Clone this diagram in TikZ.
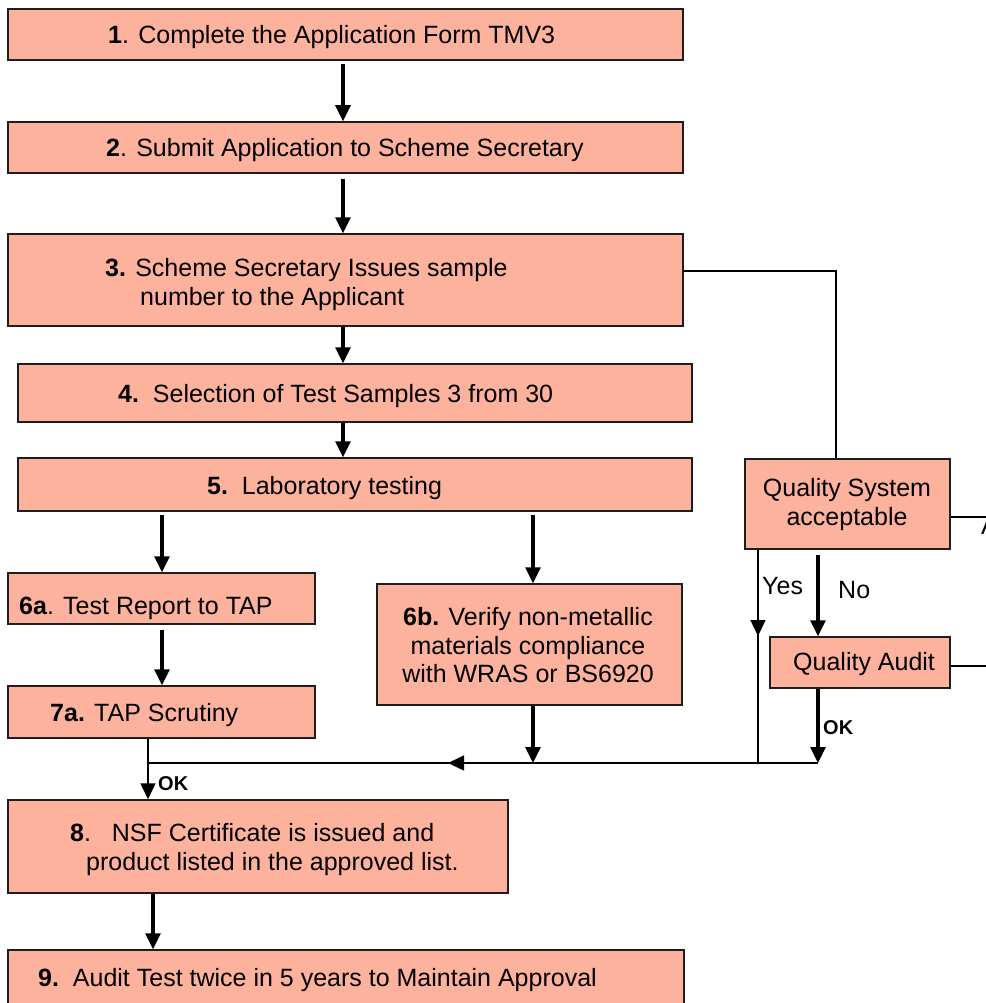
\documentclass[tikz,border=0pt]{standalone}
\usepackage{fontspec}
\setmainfont{Liberation Sans}
\usetikzlibrary{arrows.meta}
\definecolor{boxfill}{RGB}{253,178,158}
\definecolor{boxline}{RGB}{30,30,30}
\begin{document}
\begin{tikzpicture}[x=1pt,y=-1pt,
  box/.style={draw=boxline, line width=1.5pt, fill=boxfill, rectangle, inner sep=0pt},
  txt/.style={inner sep=0pt, anchor=base west, font=\fontsize{25}{29}\selectfont},
  txtc/.style={inner sep=0pt, anchor=base, font=\fontsize{25}{29}\selectfont},
  oklab/.style={inner sep=0pt, anchor=base west, font=\fontsize{20}{24}\selectfont\bfseries},
  tarr/.style={line width=3.2pt, -{Triangle[length=16pt,width=15pt]}},
  thinl/.style={line width=1.5pt},
  tharr/.style={line width=1.5pt, -{Triangle[length=16pt,width=15pt]}}
]
\useasboundingbox (0,0) rectangle (985,1003);

% boxes
\node[box, minimum width=675, minimum height=51] (b1) at (345.5,34.5) {};
\node[box, minimum width=675, minimum height=51] (b2) at (345.5,147.5) {};
\node[box, minimum width=675, minimum height=92] (b3) at (345.5,280) {};
\node[box, minimum width=674, minimum height=58] (b4) at (355,393) {};
\node[box, minimum width=674, minimum height=53] (b5) at (355,484.5) {};
\node[box, minimum width=307, minimum height=51] (b6a) at (161.5,598.5) {};
\node[box, minimum width=307, minimum height=52] (b7a) at (161.5,712) {};
\node[box, minimum width=305, minimum height=121] (b6b) at (529.5,644.5) {};
\node[box, minimum width=205, minimum height=90] (qs) at (847.5,504) {};
\node[box, minimum width=180, minimum height=51] (qa) at (860,662.5) {};
\node[box, minimum width=500, minimum height=93] (b8) at (258,846.5) {};
\node[box, minimum width=676, minimum height=60] (b9) at (346,980) {};

% texts
\node[txt] (t1) at (108,44) {\textbf{1}. Complete the Application Form TMV3};
\node[txt] (t2) at (106,157) {\textbf{2}. Submit Application to Scheme Secretary};
\node[txt] (t3a) at (105,276) {\textbf{3.} Scheme Secretary Issues sample};
\node[txt] (t3b) at (140,305) {number to the Applicant};
\node[txt] (t4) at (118,402) {\textbf{4.}\ \ Selection of Test Samples 3 from 30};
\node[txt] (t5) at (207,494) {\textbf{5.}\ \ Laboratory testing};
\node[txt] (t6a) at (19,614) {\textbf{6a}. Test Report to TAP};
\node[txt] (t7a) at (50,721) {\textbf{7a.} TAP Scrutiny};
\node[txtc] (t6b1) at (528,625) {\textbf{6b.} Verify non-metallic};
\node[txtc] (t6b2) at (528,654) {materials compliance};
\node[txtc] (t6b3) at (528,682) {with WRAS or BS6920};
\node[txtc] (tqs1) at (847,496) {Quality System};
\node[txtc] (tqs2) at (847,525) {acceptable};
\node[txt] (tqa) at (793,670) {Quality Audit};
\node[txt] (t8a) at (70,841) {\textbf{8}.\ \ \ NSF Certificate is issued and};
\node[txt] (t8b) at (86,870) {product listed in the approved list.};
\node[txt] (t9) at (38,986) {\textbf{9.}\ \ Audit Test twice in 5 years to Maintain Approval};
\node[txt] (tyes) at (762,594) {Yes};
\node[txt] (tno) at (838,598) {No};
\node[oklab] (ok1) at (158,790) {OK};
\node[oklab] (ok2) at (823,734) {OK};
\node[txt] (cut) at (981,534) {A};

% routing coordinates
\coordinate (xa) at (343,0);
\coordinate (xl) at (162,0);
\coordinate (xm) at (533,0);
\coordinate (x8) at (153,0);
\coordinate (jR) at (818,763);
\coordinate (jL) at (148,763);
\coordinate (jY) at (758,763);
\coordinate (jM) at (533,763);
\coordinate (r3) at (836,271);
\coordinate (eq) at (990,517);
\coordinate (ea) at (990,666);

% main column
\draw[tarr, shorten <=3pt] (b1.south -| xa) -- (b2.north -| xa);
\draw[tarr, shorten <=5pt] (b2.south -| xa) -- (b3.north -| xa);
\draw[tarr] (b3.south -| xa) -- (b4.north -| xa);
\draw[tarr] (b4.south -| xa) -- (b5.north -| xa);
\draw[tarr, shorten <=3pt] (b5.south -| xl) -- (b6a.north -| xl);
\draw[tarr, shorten <=3pt] (b5.south -| xm) -- (b6b.north -| xm);
\draw[tarr, shorten <=5pt] (b6a.south -| xl) -- (b7a.north -| xl);
\draw[tarr] (b6b.south -| xm) -- (jM);
\draw[tarr] (b8.south -| x8) -- (b9.north -| x8);

% quality branch
\draw[thinl] (b3.east |- r3) -- (r3) -- (qs.north -| r3);
\draw[thinl] (qs.east |- eq) -- (eq);
\draw[thinl] (qa.east |- ea) -- (ea);
\draw[thinl] (qs.south -| jY) -- (jY);
\draw[tharr] (qs.south -| jY) -- (758,636);
\draw[tarr, shorten <=5pt] (qs.south -| jR) -- (qa.north -| jR);
\draw[tarr] (qa.south -| jR) -- (jR);

% collecting line
\draw[thinl] (jR) -- (jL);
\draw[tharr] (jR) -- (448,763);
\draw[tharr] (b7a.south -| jL) -- (b8.north -| jL);
\end{tikzpicture}
\end{document}
